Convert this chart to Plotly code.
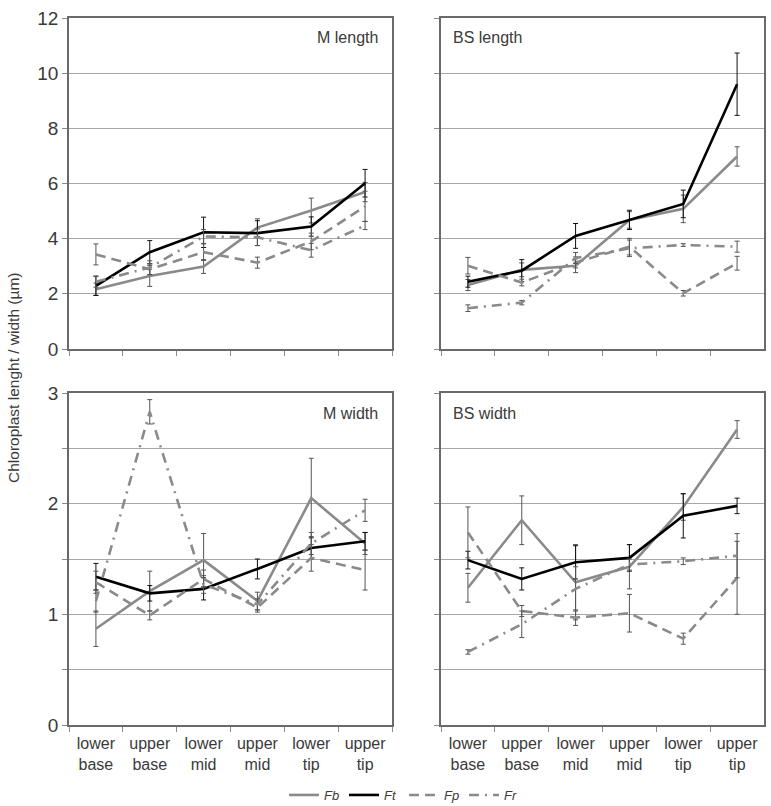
import plotly.graph_objects as go

categories = ["lower base", "upper base", "lower mid", "upper mid", "lower tip", "upper tip"]
tick_labels = ["lower<br>base", "upper<br>base", "lower<br>mid", "upper<br>mid", "lower<br>tip", "upper<br>tip"]
series_names = ["Fb", "Ft", "Fp", "Fr"]

# M length
m_len_fb = [2.17, 2.65, 2.99, 4.40, 5.02, 5.69]
m_len_fb_err = [0.22, 0.38, 0.25, 0.32, 0.45, 0.35]
m_len_ft = [2.29, 3.51, 4.23, 4.20, 4.44, 6.01]
m_len_ft_err = [0.35, 0.42, 0.55, 0.45, 0.35, 0.50]
m_len_fp = [3.43, 2.89, 3.51, 3.13, 3.90, 5.17]
m_len_fp_err = [0.38, 0.20, 0.30, 0.20, 0.30, 0.55]
m_len_fr = [2.44, 2.95, 4.08, 4.05, 3.58, 4.48]
m_len_fr_err = [0.20, 0.25, 0.25, 0.30, 0.25, 0.15]

# BS length
bs_len_fb = [2.32, 2.87, 3.02, 4.68, 5.08, 6.98]
bs_len_fb_err = [0.20, 0.25, 0.25, 0.30, 0.50, 0.35]
bs_len_ft = [2.44, 2.84, 4.10, 4.68, 5.26, 9.60]
bs_len_ft_err = [0.20, 0.40, 0.45, 0.35, 0.50, 1.13]
bs_len_fp = [3.02, 2.41, 3.14, 3.71, 2.02, 3.11]
bs_len_fp_err = [0.30, 0.12, 0.20, 0.30, 0.10, 0.25]
bs_len_fr = [1.48, 1.68, 3.30, 3.65, 3.77, 3.71]
bs_len_fr_err = [0.12, 0.08, 0.20, 0.30, 0.05, 0.20]

# M width
m_wid_fb = [0.87, 1.21, 1.49, 1.12, 2.05, 1.64]
m_wid_fb_err = [0.16, 0.18, 0.24, 0.08, 0.36, 0.10]
m_wid_ft = [1.34, 1.19, 1.23, 1.41, 1.60, 1.66]
m_wid_ft_err = [0.12, 0.07, 0.10, 0.09, 0.10, 0.08]
m_wid_fp = [1.29, 0.99, 1.32, 1.06, 1.51, 1.40]
m_wid_fp_err = [0.10, 0.04, 0.08, 0.04, 0.12, 0.18]
m_wid_fr = [1.12, 2.83, 1.27, 1.09, 1.64, 1.94]
m_wid_fr_err = [0.10, 0.11, 0.08, 0.05, 0.10, 0.10]

# BS width
bs_wid_fb = [1.24, 1.85, 1.29, 1.43, 1.97, 2.67]
bs_wid_fb_err = [0.13, 0.22, 0.34, 0.20, 0.12, 0.08]
bs_wid_ft = [1.49, 1.32, 1.47, 1.51, 1.89, 1.98]
bs_wid_ft_err = [0.08, 0.10, 0.15, 0.12, 0.20, 0.07]
bs_wid_fp = [1.74, 1.03, 0.97, 1.01, 0.78, 1.33]
bs_wid_fp_err = [0.23, 0.05, 0.07, 0.17, 0.05, 0.33]
bs_wid_fr = [0.66, 0.91, 1.23, 1.45, 1.48, 1.53]
bs_wid_fr_err = [0.02, 0.12, 0.20, 0.05, 0.03, 0.20]

panel_titles = ["M length", "BS length", "M width", "BS width"]

panels = [
    ([m_len_fb, m_len_ft, m_len_fp, m_len_fr], [m_len_fb_err, m_len_ft_err, m_len_fp_err, m_len_fr_err]),
    ([bs_len_fb, bs_len_ft, bs_len_fp, bs_len_fr], [bs_len_fb_err, bs_len_ft_err, bs_len_fp_err, bs_len_fr_err]),
    ([m_wid_fb, m_wid_ft, m_wid_fp, m_wid_fr], [m_wid_fb_err, m_wid_ft_err, m_wid_fp_err, m_wid_fr_err]),
    ([bs_wid_fb, bs_wid_ft, bs_wid_fp, bs_wid_fr], [bs_wid_fb_err, bs_wid_ft_err, bs_wid_fp_err, bs_wid_fr_err]),
]

FONT = "Liberation Sans, Arial, sans-serif"
TXT = "#3a3a3a"
GRAY = "#8a8a8a"
styles = [
    dict(color=GRAY, width=2.6, dash="solid"),
    dict(color="#000000", width=2.6, dash="solid"),
    dict(color=GRAY, width=2.6, dash="10px,6px"),
    dict(color=GRAY, width=2.6, dash="10px,6px,2px,6px"),
]
err_colors = ["#555555", "#111111", "#555555", "#555555"]

W, H = 771, 806
ml, mt = 69, 18
mr = W - 764
mb = H - 725
pw, ph = W - ml - mr, H - mt - mb

def fx(px):
    return (px - ml) / pw

def fy(py):
    return (H - mb - py) / ph

x_domains = [[fx(69), fx(392)], [fx(441), fx(764)]]
y_domains = [[fy(349), fy(18)], [fy(725), fy(393)]]

fig = go.Figure()

for p, (vals, errs) in enumerate(panels):
    ax = "" if p == 0 else str(p + 1)
    for s in range(4):
        fig.add_trace(go.Scatter(
            x=categories, y=vals[s],
            mode="lines",
            name="<i>" + series_names[s] + "</i>",
            line=styles[s],
            error_y=dict(type="data", array=errs[s], visible=True,
                         color=err_colors[s], thickness=1, width=2.5),
            showlegend=(p == 0),
            xaxis="x" + ax, yaxis="y" + ax,
        ))

axis_common = dict(showline=True, linecolor="#6a6a6a", linewidth=1.5, mirror=True,
                   zeroline=False, automargin=False, ticklabeloverflow="allow")

layout = dict(
    width=W, height=H,
    margin=dict(l=ml, r=mr, t=mt, b=mb, autoexpand=False),
    paper_bgcolor="white", plot_bgcolor="white",
    font=dict(family=FONT, color=TXT),
    template="none",
    legend=dict(orientation="h", xref="container", yref="container",
                x=404 / W, y=1 - 795 / H, xanchor="center", yanchor="middle",
                font=dict(family=FONT, size=13, color=TXT), itemwidth=30,
                entrywidth=15, entrywidthmode="pixels",
                tracegroupgap=0, bgcolor="rgba(0,0,0,0)"),
)

for p in range(4):
    ax = "" if p == 0 else str(p + 1)
    col = p % 2
    row = p // 2
    xa = dict(axis_common)
    xa.update(domain=x_domains[col], anchor="y" + ax, type="category",
              categoryorder="array", categoryarray=categories,
              tickmode="array", tickvals=categories, ticktext=tick_labels,
              showticklabels=(row == 1), ticks="outside", tickson="boundaries",
              ticklen=5, tickcolor="#8a8a8a", showgrid=False, tickangle=0,
              ticklabelstandoff=3,
              tickfont=dict(family=FONT, size=16, color=TXT),
              range=[-0.5, 5.5])
    ya = dict(axis_common)
    if row == 0:
        yv = [0, 2, 4, 6, 8, 10, 12]
        yt = ["0", "2", "4", "6", "8", "10", "12"]
        yr = [0, 12]
    else:
        yv = [0, 0.5, 1, 1.5, 2, 2.5, 3]
        yt = ["0", "", "1", "", "2", "", "3"]
        yr = [0, 3]
    ya.update(domain=y_domains[row], anchor="x" + ax, range=yr,
              tickmode="array", tickvals=yv, ticktext=yt,
              showticklabels=(col == 0), ticks="outside", ticklen=5,
              tickcolor="#8a8a8a", showgrid=True, gridcolor="#a8a8a8", gridwidth=1,
              tickfont=dict(family=FONT, size=19, color=TXT))
    layout["xaxis" + ax] = xa
    layout["yaxis" + ax] = ya

fig.update_layout(**layout)

# Panel titles
title_pos = [(fx(380), fy(37), "right"), (fx(451), fy(37), "left"),
             (fx(380), fy(413), "right"), (fx(451), fy(413), "left")]
for (x, y, anc), t in zip(title_pos, panel_titles):
    fig.add_annotation(text=t, x=x, y=y, xref="paper", yref="paper",
                       xanchor=anc, yanchor="middle", showarrow=False,
                       font=dict(family=FONT, size=16, color=TXT))

fig.add_annotation(text="Chloroplast lenght / width (µm)", x=fx(13), y=fy(378),
                   xref="paper", yref="paper", textangle=-90, showarrow=False,
                   xanchor="center", yanchor="middle",
                   font=dict(family=FONT, size=15.5, color=TXT))

fig.write_html("out.html", config={"displayModeBar": False},
               post_script="document.body.style.margin='0';document.body.style.padding='0';")
